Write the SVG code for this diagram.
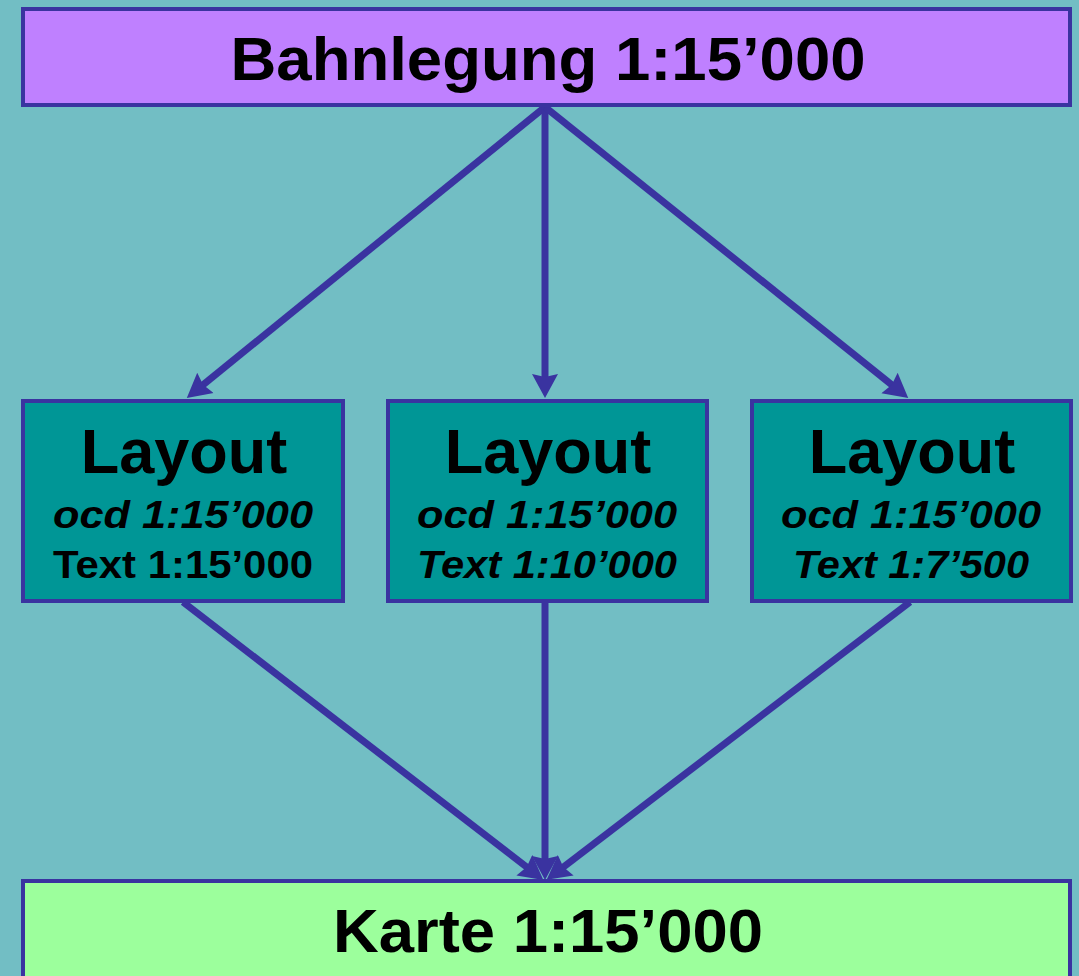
<svg xmlns="http://www.w3.org/2000/svg" width="1079" height="976" viewBox="0 0 1079 976">
<defs>
<style>
.box{stroke:#3a33a0;stroke-width:4}
.t{font-family:"Liberation Sans",Arial,sans-serif;font-weight:bold;fill:#000;text-anchor:middle}
.big{font-size:61px}
.lay{font-size:63px}
.sub{font-size:39px}
.it{font-style:italic}
.edge{stroke:#3a33a0;stroke-width:7;fill:none;marker-end:url(#ah)}
</style>
<marker id="ah" markerUnits="userSpaceOnUse" markerWidth="28" markerHeight="28" refX="16" refY="14" orient="auto">
<path d="M0,1 L24,14 L0,27 L3,14 Z" fill="#3a33a0"/>
</marker>
</defs>
<rect width="1079" height="976" fill="#72bec4"/>
<g id="connectors">
<line class="edge" x1="545" y1="107" x2="193" y2="393"/>
<line class="edge" x1="545" y1="107" x2="545" y2="390"/>
<line class="edge" x1="545" y1="107" x2="902" y2="393"/>
<line class="edge" x1="183" y1="602" x2="537" y2="875"/>
<line class="edge" x1="545" y1="602" x2="545" y2="872"/>
<line class="edge" x1="910" y1="602" x2="553" y2="875"/>
</g>
<g id="bahnlegung">
<rect class="box" x="23" y="9" width="1047" height="96" fill="#bf80ff"/>
<text class="t big" x="548" y="80" textLength="635" lengthAdjust="spacingAndGlyphs">Bahnlegung 1:15’000</text>
</g>
<g id="layout1">
<rect class="box" x="23" y="401" width="320" height="200" fill="#009696"/>
<text class="t lay" x="184" y="473">Layout</text>
<text class="t sub it" x="183" y="528" textLength="260" lengthAdjust="spacingAndGlyphs">ocd 1:15’000</text>
<text class="t sub" x="183" y="578" textLength="260" lengthAdjust="spacingAndGlyphs">Text 1:15’000</text>
</g>
<g id="layout2">
<rect class="box" x="388" y="401" width="319" height="200" fill="#009696"/>
<text class="t lay" x="548" y="473">Layout</text>
<text class="t sub it" x="547" y="528" textLength="260" lengthAdjust="spacingAndGlyphs">ocd 1:15’000</text>
<text class="t sub it" x="547" y="578" textLength="260" lengthAdjust="spacingAndGlyphs">Text 1:10’000</text>
</g>
<g id="layout3">
<rect class="box" x="752" y="401" width="319" height="200" fill="#009696"/>
<text class="t lay" x="912" y="473">Layout</text>
<text class="t sub it" x="911" y="528" textLength="260" lengthAdjust="spacingAndGlyphs">ocd 1:15’000</text>
<text class="t sub it" x="911" y="578" textLength="236" lengthAdjust="spacingAndGlyphs">Text 1:7’500</text>
</g>
<g id="karte">
<rect class="box" x="23" y="881" width="1047" height="110" fill="#9cff9c"/>
<text class="t big" x="548" y="952" textLength="430" lengthAdjust="spacingAndGlyphs">Karte 1:15’000</text>
</g>
</svg>
